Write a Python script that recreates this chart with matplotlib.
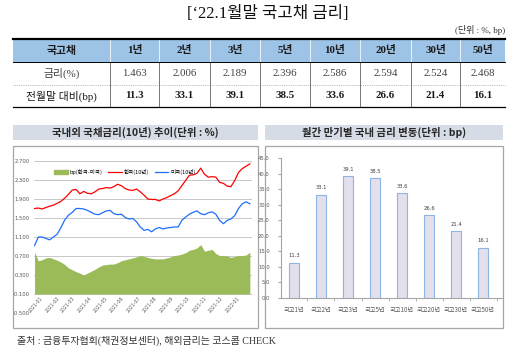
import numpy as np
import pandas as pd
import matplotlib
matplotlib.use('Agg')
import matplotlib.pyplot as plt
from matplotlib.patches import Rectangle, Patch

# 표 데이터 ('22.1월말 국고채 금리)
tenors = ['1년', '2년', '3년', '5년', '10년', '20년', '30년', '50년']
rates = [1.463, 2.006, 2.189, 2.396, 2.586, 2.594, 2.524, 2.468]
changes_bp = [11.3, 33.1, 39.1, 38.5, 33.6, 26.6, 21.4, 16.1]
bar_labels = ['국고' + t for t in tenors]

# 주간 10년물 금리
kr10 = [1.70, 1.71, 1.69, 1.72, 1.75, 1.77, 1.81, 1.85, 1.92, 2.00,
        2.09, 2.10, 2.01, 2.06, 2.02, 2.01, 2.05, 2.11, 2.12, 2.14,
        2.13, 2.16, 2.21, 2.18, 2.12, 2.09, 2.08, 2.11, 2.05, 1.98,
        1.90, 1.89, 1.89, 1.86, 1.90, 1.93, 1.97, 2.01, 2.07, 2.18,
        2.29, 2.40, 2.41, 2.44, 2.55, 2.42, 2.36, 2.37, 2.36, 2.25,
        2.23, 2.17, 2.16, 2.29, 2.46, 2.54, 2.59, 2.64]
us10 = [0.92, 1.10, 1.10, 1.07, 1.04, 1.10, 1.16, 1.30, 1.46, 1.56,
        1.62, 1.70, 1.70, 1.69, 1.66, 1.62, 1.58, 1.57, 1.61, 1.65,
        1.66, 1.59, 1.57, 1.58, 1.51, 1.48, 1.49, 1.42, 1.31, 1.24,
        1.26, 1.21, 1.27, 1.30, 1.27, 1.29, 1.30, 1.31, 1.31, 1.45,
        1.52, 1.58, 1.62, 1.65, 1.59, 1.57, 1.61, 1.63, 1.58, 1.45,
        1.38, 1.45, 1.48, 1.55, 1.70, 1.80, 1.84, 1.80]
spread = [0.78, 0.60, 0.62, 0.66, 0.67, 0.64, 0.61, 0.57, 0.52, 0.45,
          0.41, 0.37, 0.34, 0.30, 0.34, 0.38, 0.42, 0.47, 0.51, 0.52,
          0.53, 0.53, 0.56, 0.60, 0.62, 0.64, 0.66, 0.68, 0.71, 0.69,
          0.67, 0.65, 0.64, 0.64, 0.64, 0.66, 0.68, 0.71, 0.72, 0.74,
          0.77, 0.82, 0.84, 0.87, 0.94, 0.80, 0.82, 0.84, 0.75, 0.71,
          0.71, 0.70, 0.67, 0.69, 0.71, 0.71, 0.72, 0.78]

W, H = 512, 353
SERIF = ['Liberation Serif', 'Noto Sans CJK KR']
SANS = ['Noto Sans CJK KR', 'DejaVu Sans']


def fbox(x0, y0, x1, y1):
    # 픽셀 좌표 -> figure 좌표
    return [x0 / W, 1 - y1 / H, (x1 - x0) / W, (y1 - y0) / H]


fig = plt.figure(figsize=(W / 100, H / 100), dpi=100)
bg = fig.add_axes([0, 0, 1, 1])
bg.set_xlim(0, W)
bg.set_ylim(H, 0)
bg.axis('off')

# 제목
bg.text(268, 14, '[‘22.1월말 국고채 금리]', ha='center', va='center',
        fontsize=12, family=SERIF, color='#111111')
bg.text(505, 30, '(단위 : %, bp)', ha='right', va='center',
        fontsize=6.5, family=SERIF, color='#333333')

# 표
col_edges = [13, 110, 159, 210, 260, 310, 360, 411, 460, 505]
row_edges = [39, 62, 85, 107]
bg.add_patch(Rectangle((13, 39), 492, 23, fc='#9DC3E6', ec='none'))
for x in col_edges[1:-1]:
    bg.plot([x, x], [39, 62], color='#E8EEF6', lw=0.8)
    bg.plot([x, x], [62, 107], color='#404040', lw=0.5)
bg.plot([13, 505], [39, 39], color='black', lw=1.6)
bg.plot([13, 505], [62, 62], color='black', lw=0.7)
bg.plot([13, 505], [85, 85], color='#808080', lw=0.5, ls=':')
bg.plot([13, 505], [107, 107], color='black', lw=0.9)

centers = [(col_edges[i] + col_edges[i + 1]) / 2 for i in range(len(col_edges) - 1)]
rows = [
    (['국고채'] + tenors, 'bold', '#1a1a1a'),
    (['금리(%)'] + [f'{v:.3f}' for v in rates], 'normal', '#404040'),
    (['전월말 대비(bp)'] + [f'{v:.1f}' for v in changes_bp], 'bold', '#1a1a1a'),
]
for r, (cells, weight, col) in enumerate(rows):
    yc = (row_edges[r] + row_edges[r + 1]) / 2
    for i, txt in enumerate(cells):
        w = 'normal' if (r == 2 and i == 0) else weight
        bg.text(centers[i], yc, txt, ha='center', va='center', fontsize=7.8,
                family=SERIF, fontweight=w, color=col)

# 차트 박스와 머리말
for x0, x1, head in [(13, 258, '국내외 국채금리(10년) 추이(단위 : %)'),
                     (265, 503, '월간 만기별 국내 금리 변동(단위 : bp)')]:
    bg.add_patch(Rectangle((x0, 125), x1 - x0, 15, fc='#D6DCE5', ec='none'))
    bg.text((x0 + x1) / 2, 132.5, head, ha='center', va='center',
            fontsize=7.5, fontweight='bold', family=SANS, color='#262626')
    bg.add_patch(Rectangle((x0, 146), x1 - x0, 182, fill=False,
                           ec='#A6A6A6', lw=0.9))

bg.text(17, 341, '출처 : 금융투자협회(채권정보센터), 해외금리는 코스콤 CHECK',
        ha='left', va='center', fontsize=7.2, family=SERIF, color='#333333')

# 왼쪽: 국내외 10년물 추이
ax1 = fig.add_axes(fbox(34, 161, 252, 313))
ax1.set_facecolor('none')
dates = pd.date_range('2021-01-04', periods=len(kr10), freq='7D')
ax1.fill_between(dates, -0.1, spread, color='#9BBB59', lw=0)
ax1.plot(dates, kr10, color='#FF0000', lw=0.9)
ax1.plot(dates, us10, color='#1E6EFF', lw=0.9)
ax1.set_ylim(-0.5, 2.7)
ax1.set_xlim(dates[0] - pd.Timedelta(days=1), dates[-1] + pd.Timedelta(days=4))
yt = np.arange(-0.5, 2.71, 0.4)
ax1.set_yticks(yt)
ax1.set_yticklabels([f'{v:.3f}' for v in yt])
ax1.yaxis.grid(True, color='#BFBFBF', lw=0.6)
ax1.set_axisbelow(True)
ax1.set_xticks([])
for s in ax1.spines.values():
    s.set_visible(False)
ax1.tick_params(axis='y', length=0, labelsize=3.8, labelcolor='#595959', pad=3)
months = [pd.Timestamp(2021, 1, 14) + pd.DateOffset(months=i) for i in range(13)]
for m in months:
    ax1.text(m, -0.14, m.strftime('%Y-%m'), rotation=50, ha='right', va='top',
             rotation_mode='anchor', fontsize=3.3, color='#595959')
handles = [Patch(color='#9BBB59', label='bp(한국-미국)'),
           plt.Line2D([], [], color='#FF0000', lw=0.9, label='한국(10년)'),
           plt.Line2D([], [], color='#1E6EFF', lw=0.9, label='미국(10년)')]
ax1.legend(handles=handles, loc='center left', bbox_to_anchor=(0.07, 0.93),
           ncol=3, frameon=False, handlelength=2.5, handleheight=0.8,
           columnspacing=1.0, handletextpad=0.3,
           prop={'family': SANS, 'size': 4})

# 오른쪽: 만기별 월간 변동
ax2 = fig.add_axes(fbox(281, 158, 502, 298))
ax2.set_facecolor('none')
xb = np.arange(len(changes_bp))
ax2.bar(xb, changes_bp, width=0.37, color='#E4DFEC', edgecolor='#8DB4E2', lw=0.8)
for xi, v in zip(xb, changes_bp):
    ax2.text(xi, v + 1.5, f'{v:.1f}', ha='center', va='bottom',
             fontsize=3.8, color='#404040')
ax2.set_ylim(0, 45)
ax2.set_xlim(-0.48, 7.7)
yt2 = np.arange(0, 46, 5)
ax2.set_yticks(yt2)
ax2.set_yticklabels([f'{v:.1f}' for v in yt2])
ax2.set_xticks(xb)
ax2.set_xticklabels(bar_labels, family=SANS)
ax2.set_xticks(xb + 0.5, minor=True)
ax2.spines['top'].set_visible(False)
ax2.spines['right'].set_visible(False)
ax2.spines['left'].set_color('#A6A6A6')
ax2.spines['bottom'].set_color('#A6A6A6')
ax2.tick_params(axis='y', length=2, color='#A6A6A6', labelsize=3.8,
                labelcolor='#595959', pad=6)
ax2.tick_params(axis='x', which='major', length=0, labelsize=4.5,
                labelcolor='#595959', pad=6)
ax2.tick_params(axis='x', which='minor', length=2, color='#A6A6A6')

fig.savefig('out.png', dpi=100)
